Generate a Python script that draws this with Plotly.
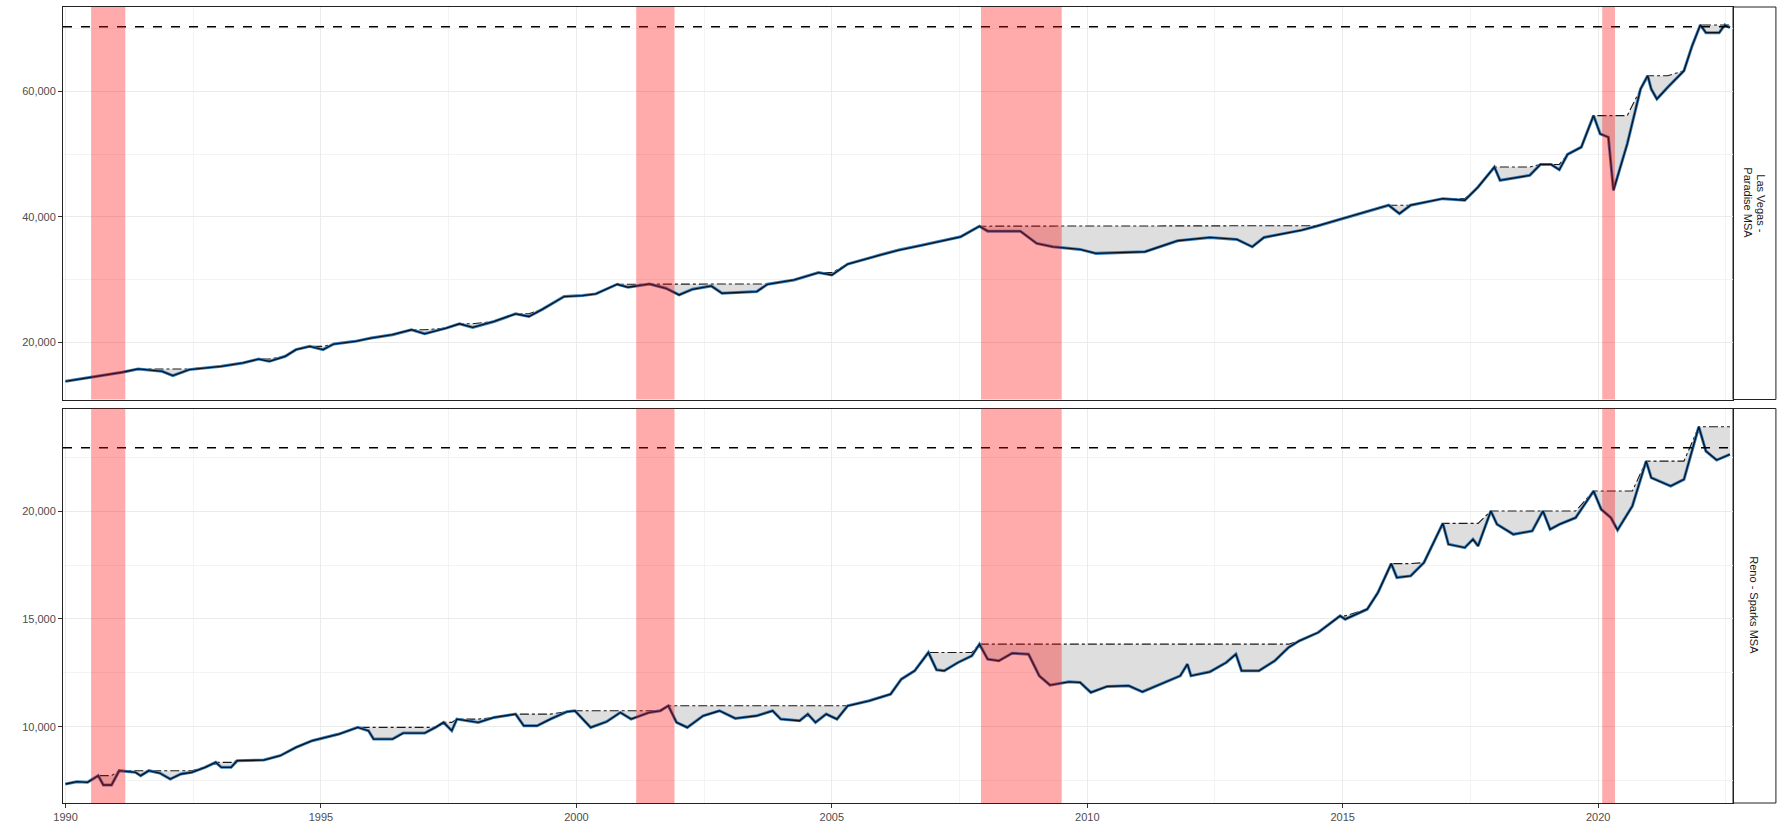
import numpy as np
import plotly.graph_objects as go
from plotly.subplots import make_subplots

# ---------------- data ----------------
lv_years = [1990.00, 1990.43, 1991.11, 1991.42, 1991.89, 1992.10, 1992.42, 1993.05, 1993.47, 1993.78,
            1993.99, 1994.30, 1994.51, 1994.78, 1995.04, 1995.25, 1995.67, 1995.98, 1996.40, 1996.77,
            1997.03, 1997.45, 1997.71, 1997.97, 1998.39, 1998.81, 1999.07, 1999.34, 1999.76, 2000.12,
            2000.38, 2000.80, 2001.01, 2001.43, 2001.75, 2002.01, 2002.27, 2002.64, 2002.85, 2003.53,
            2003.74, 2004.26, 2004.74, 2005.00, 2005.31, 2005.94, 2006.31, 2006.78, 2007.52, 2007.89,
            2008.05, 2008.69, 2009.01, 2009.33, 2009.86, 2010.17, 2011.13, 2011.77, 2012.40, 2012.93,
            2013.23, 2013.46, 2014.20, 2014.52, 2015.16, 2015.90, 2016.11, 2016.33, 2016.96, 2017.39,
            2017.65, 2017.97, 2018.08, 2018.66, 2018.87, 2019.08, 2019.24, 2019.40, 2019.67, 2019.91,
            2020.04, 2020.20, 2020.30, 2020.57, 2020.83, 2020.97, 2021.04, 2021.15, 2021.36, 2021.68,
            2021.84, 2022.00, 2022.11, 2022.37, 2022.48, 2022.58]
lv_values = [13800, 14350, 15247, 15776, 15400, 14720, 15670, 16200, 16730, 17350,
             16990, 17790, 18850, 19370, 18850, 19745, 20170, 20700, 21230, 22020,
             21380, 22280, 22970, 22390, 23340, 24560, 24130, 25300, 27310, 27470,
             27730, 29270, 28790, 29320, 28630, 27570, 28470, 29000, 27840, 28100,
             29270, 29950, 31120, 30750, 32490, 33920, 34715, 35510, 36830, 38520,
             37730, 37730, 35770, 35240, 34820, 34190, 34450, 36200, 36730, 36410,
             35240, 36730, 37890, 38600, 40110, 41860, 40530, 41860, 42910, 42650,
             44770, 47940, 45830, 46620, 48360, 48360, 47520, 49950, 51110, 56140,
             53230, 52700, 44240, 51640, 60370, 62490, 60370, 58780, 60640, 63280,
             67250, 70580, 69360, 69360, 70580, 70160]

reno_years = [1990.00, 1990.22, 1990.43, 1990.64, 1990.74, 1990.90, 1991.05, 1991.37, 1991.47, 1991.63,
              1991.84, 1992.05, 1992.26, 1992.47, 1992.73, 1992.94, 1993.05, 1993.24, 1993.36, 1993.88,
              1994.20, 1994.51, 1994.83, 1995.35, 1995.72, 1995.93, 1996.03, 1996.40, 1996.61, 1997.03,
              1997.24, 1997.40, 1997.56, 1997.66, 1998.08, 1998.39, 1998.81, 1998.97, 1999.23, 1999.49,
              1999.81, 1999.97, 2000.28, 2000.59, 2000.86, 2001.07, 2001.43, 2001.64, 2001.80, 2001.96,
              2002.17, 2002.48, 2002.80, 2003.11, 2003.53, 2003.84, 2004.00, 2004.37, 2004.53, 2004.68,
              2004.89, 2005.10, 2005.31, 2005.73, 2006.15, 2006.36, 2006.62, 2006.89, 2007.05, 2007.20,
              2007.47, 2007.74, 2007.89, 2008.05, 2008.27, 2008.53, 2008.85, 2009.06, 2009.27, 2009.64,
              2009.86, 2010.07, 2010.39, 2010.81, 2011.08, 2011.45, 2011.82, 2011.96, 2012.03, 2012.40,
              2012.72, 2012.91, 2013.02, 2013.36, 2013.67, 2013.94, 2014.15, 2014.52, 2014.95, 2015.05,
              2015.48, 2015.69, 2015.95, 2016.06, 2016.33, 2016.59, 2016.96, 2017.07, 2017.39, 2017.55,
              2017.65, 2017.90, 2018.02, 2018.34, 2018.71, 2018.92, 2019.06, 2019.24, 2019.56, 2019.91,
              2020.06, 2020.25, 2020.38, 2020.67, 2020.94, 2021.04, 2021.42, 2021.68, 2021.97, 2022.11,
              2022.32, 2022.58]
reno_values = [7349, 7457, 7426, 7735, 7303, 7303, 7966, 7889, 7735, 7966,
               7858, 7580, 7812, 7889, 8120, 8352, 8120, 8120, 8429, 8460,
               8660, 9046, 9355, 9663, 9972, 9818, 9432, 9432, 9710, 9710,
               9972, 10203, 9818, 10357, 10203, 10435, 10589, 10049, 10049, 10357,
               10697, 10743, 9972, 10234, 10666, 10357, 10666, 10743, 10975, 10203,
               9972, 10512, 10743, 10389, 10512, 10743, 10357, 10280, 10589, 10203,
               10589, 10357, 10975, 11206, 11516, 12210, 12597, 13445, 12643, 12597,
               12982, 13291, 13831, 13137, 13060, 13414, 13368, 12365, 11933, 12087,
               12056, 11593, 11871, 11902, 11625, 11979, 12365, 12905, 12365, 12550,
               12982, 13368, 12597, 12597, 13060, 13677, 13985, 14371, 15142, 14988,
               15451, 16223, 17565, 16917, 16994, 17611, 19432, 18460, 18306, 18691,
               18383, 20003, 19386, 18923, 19077, 20003, 19154, 19386, 19694, 20929,
               20080, 19694, 19123, 20234, 22317, 21546, 21160, 21469, 23907, 22780,
               22364, 22626]

panel_label_lines = [["Las Vegas -", "Paradise MSA"], ["Reno - Sparks MSA"]]
reference_levels = [70300, 22935]
recession_starts = [1990.50, 2001.17, 2007.92, 2020.08]
recession_ends = [1991.17, 2001.92, 2009.50, 2020.33]
x_tick_vals = [1990, 1995, 2000, 2005, 2010, 2015, 2020]
x_tick_text = ["1990", "1995", "2000", "2005", "2010", "2015", "2020"]

# ---------------- figure ----------------
fig = make_subplots(rows=2, cols=1, shared_xaxes=True, vertical_spacing=0.01)

series = [(lv_years, lv_values), (reno_years, reno_values)]
for i, (yrs, vals) in enumerate(series):
    r = i + 1
    yrs = np.array(yrs)
    vals = np.array(vals, dtype=float)
    runmax = np.maximum.accumulate(vals)
    fig.add_trace(go.Scatter(x=yrs, y=runmax, mode="lines", line=dict(width=0, color="rgba(0,0,0,0)"),
                             showlegend=False, hoverinfo="skip"), row=r, col=1)
    fig.add_trace(go.Scatter(x=yrs, y=vals, mode="lines", line=dict(width=0, color="rgba(0,0,0,0)"),
                             fill="tonexty", fillcolor="#DEDEDE", showlegend=False, hoverinfo="skip"),
                  row=r, col=1)
    fig.add_trace(go.Scatter(x=yrs, y=runmax, mode="lines",
                             line=dict(width=1.1, color="#1a1a1a", dash="dashdot"),
                             showlegend=False), row=r, col=1)
    fig.add_trace(go.Scatter(x=yrs, y=vals, mode="lines", line=dict(width=3.0, color="#3a80bf"),
                             showlegend=False), row=r, col=1)
    fig.add_trace(go.Scatter(x=yrs, y=vals, mode="lines", line=dict(width=1.3, color="#0a1119"),
                             showlegend=False), row=r, col=1)
    fig.add_hline(y=reference_levels[i], line=dict(color="black", width=1.4, dash="dash"), row=r, col=1)
    for x0, x1 in zip(recession_starts, recession_ends):
        fig.add_vrect(x0=x0, x1=x1, fillcolor="rgb(255,0,0)", opacity=0.33, line_width=0,
                      layer="above", row=r, col=1)

tick_font = dict(family="Liberation Sans, Arial, sans-serif", size=11, color="#4D4D4D")
axis_common = dict(showline=True, mirror=True, linecolor="#222222", linewidth=1,
                   gridcolor="#EBEBEB", gridwidth=1, zeroline=False, tickfont=tick_font,
                   ticks="outside", ticklen=4, tickcolor="#333333")

x_range = [1989.95, 2022.64]
fig.update_xaxes(range=x_range, tickmode="array", tickvals=x_tick_vals, ticktext=x_tick_text,
                 minor=dict(tick0=1990, dtick=2.5, showgrid=True, gridcolor="#F3F3F3", gridwidth=0.6,
                            ticks=""),
                 **axis_common)
fig.update_xaxes(ticks="", showticklabels=False, row=1, col=1)

fig.update_yaxes(range=[10905, 73444], tick0=0, dtick=20000, tickformat=",",
                 minor=dict(tick0=0, dtick=10000, showgrid=True, gridcolor="#F3F3F3", gridwidth=0.6,
                            ticks=""),
                 row=1, col=1, **axis_common)
fig.update_yaxes(range=[6468, 24755], tick0=0, dtick=5000, tickformat=",",
                 minor=dict(tick0=0, dtick=2500, showgrid=True, gridcolor="#F3F3F3", gridwidth=0.6,
                            ticks=""),
                 row=2, col=1, **axis_common)

fig.update_layout(
    width=1778, height=829,
    margin=dict(l=63, r=45, t=6, b=24),
    plot_bgcolor="white", paper_bgcolor="white",
    yaxis=dict(domain=[0.5069, 1.0]),
    yaxis2=dict(domain=[0.0, 0.4956]),
    showlegend=False,
)

# facet strips on the right
strip_x1 = 1.0257
domains = [(0.5069, 1.0), (0.0, 0.4956)]
for lines, (d0, d1) in zip(panel_label_lines, domains):
    fig.add_shape(type="rect", xref="paper", yref="paper", x0=1.0, x1=strip_x1, y0=d0, y1=d1,
                  line=dict(color="#222222", width=1), fillcolor="white", layer="below")
    n = len(lines)
    for k, txt in enumerate(lines):
        shift = ((n - 1) / 2 - k) * 13
        fig.add_annotation(x=(1.0 + strip_x1) / 2, y=(d0 + d1) / 2, xref="paper", yref="paper",
                           text=txt, showarrow=False, textangle=90, xshift=shift,
                           xanchor="center", yanchor="middle",
                           font=dict(family="Liberation Sans, Arial, sans-serif", size=11,
                                     color="#1A1A1A"))

fig.write_html("out.html")
